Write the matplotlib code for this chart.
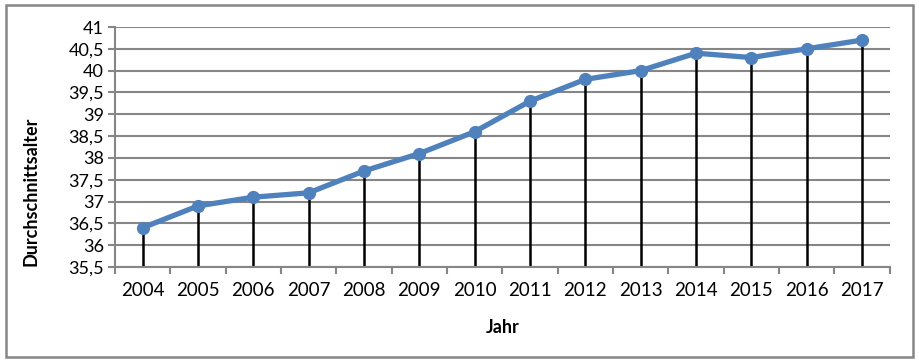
import matplotlib.pyplot as plt
import numpy as np
from matplotlib.patches import Rectangle

# Durchschnittsalter je Jahr
jahre = ["2004", "2005", "2006", "2007", "2008", "2009", "2010",
         "2011", "2012", "2013", "2014", "2015", "2016", "2017"]
alter = [36.4, 36.9, 37.1, 37.2, 37.7, 38.1, 38.6,
         39.3, 39.8, 40.0, 40.4, 40.3, 40.5, 40.7]
y_ticks = [35.5, 36, 36.5, 37, 37.5, 38, 38.5, 39, 39.5, 40, 40.5, 41]

plt.rcParams['font.family'] = ['Lato', 'DejaVu Sans']

fig = plt.figure(figsize=(9.19, 3.64), dpi=100)
ax = fig.add_axes([115 / 919, 1 - 267 / 364, (889.6 - 115) / 919, 240 / 364])

x = np.arange(len(jahre))
grau = "#868686"

# grid
for t in y_ticks:
    ax.axhline(t, color=grau, lw=1.5, zorder=1)

# drop lines
ax.vlines(x, 35.5, alter, color="black", lw=1.8, zorder=2)

ax.plot(x, alter, color="#4F81BD", lw=3.8, marker="o", markersize=8.5,
        solid_capstyle="round", zorder=3)

ax.set_xlim(-0.5, len(jahre) - 0.5)
ax.set_ylim(35.5, 41)

ax.set_yticks(y_ticks)
ax.set_yticklabels([str(t).replace(".", ",").replace(",0", "") for t in y_ticks],
                   fontsize=13)
ax.set_xticks(x)
ax.set_xticklabels(jahre, fontsize=13.5)
ax.set_xticks(np.arange(-0.5, len(jahre)), minor=True)
ax.tick_params(axis="x", which="major", length=0, pad=11)
ax.tick_params(axis="x", which="minor", length=5, color=grau, width=1.5)
ax.tick_params(axis="y", length=5, color=grau, width=1.5, pad=3)

for s in ["top", "right"]:
    ax.spines[s].set_visible(False)
ax.spines["left"].set_color(grau)
ax.spines["left"].set_linewidth(1.5)
ax.spines["bottom"].set_color(grau)
ax.spines["bottom"].set_linewidth(1.5)

ax.set_xlabel("Jahr", fontsize=13, fontweight="bold")
ax.xaxis.set_label_coords(0.5, -52 / 240)
ax.set_ylabel("Durchschnittsalter", fontsize=13, fontweight="bold")
ax.yaxis.set_label_coords(-76 / 774.6, 0.317)

# outer chart border
fig.patches.append(Rectangle((6 / 919, 1 - 357 / 364), 907 / 919, 352 / 364,
                             transform=fig.transFigure, fill=False,
                             edgecolor=grau, lw=1.8))

fig.savefig("out.png", dpi=100)
